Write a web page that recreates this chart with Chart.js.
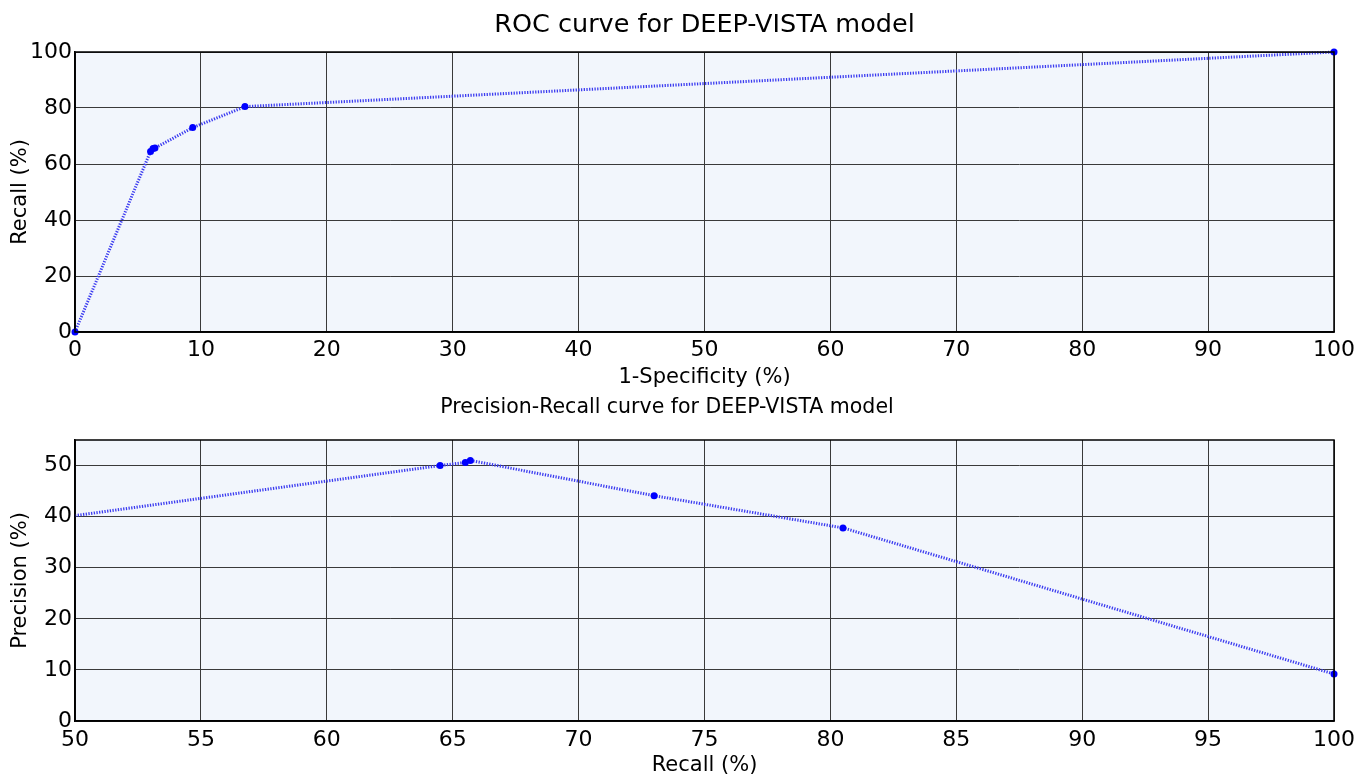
<!DOCTYPE html>
<html>
<head>
<meta charset="utf-8">
<script src="https://cdn.jsdelivr.net/npm/chart.js@4/dist/chart.umd.min.js"></script>
<style>
  html, body { margin: 0; padding: 0; background: #ffffff; }
  #wrap1 { position: absolute; left: 0; top: 0; width: 1364px; height: 390px; }
  #wrap2 { position: absolute; left: 0; top: 390px; width: 1364px; height: 388px; }
</style>
</head>
<body>
<div id="wrap1"><canvas id="roc"></canvas></div>
<div id="wrap2"><canvas id="pr"></canvas></div>
<script>
// ROC data
const rocFpr = [0, 6.0, 6.2, 6.35, 9.35, 13.5, 100];
const rocTpr = [0, 64.5, 65.5, 65.7, 73.0, 80.5, 100];
const rocXTicks = [0, 10, 20, 30, 40, 50, 60, 70, 80, 90, 100];
const rocYTicks = [0, 20, 40, 60, 80, 100];

// Precision-Recall data (first entry is where the curve enters the axes at recall 50)
const prRecall = [50, 64.5, 65.5, 65.7, 73.0, 80.5, 100];
const prPrecision = [40.2, 50.0, 50.6, 51.0, 44.1, 37.8, 9.2];
const prMarker = [0, 1, 1, 1, 1, 1, 1];
const prXTicks = [50, 55, 60, 65, 70, 75, 80, 85, 90, 95, 100];
const prYTicks = [0, 10, 20, 30, 40, 50];

const FONT = '"DejaVu Sans", "Liberation Sans", Arial, sans-serif';

const bgPlugin = {
  id: 'plotBg',
  beforeDraw(chart) {
    const a = chart.chartArea, ctx = chart.ctx;
    ctx.save();
    ctx.fillStyle = '#f2f6fc';
    ctx.fillRect(a.left, a.top, a.right - a.left, a.bottom - a.top);
    ctx.restore();
  }
};

function makeChart(id, xs, ys, markers, o) {
  const pts = xs.map((x, i) => ({x: x, y: ys[i]}));
  return new Chart(document.getElementById(id), {
    type: 'scatter',
    data: {
      datasets: [{
        data: pts,
        showLine: true,
        clip: false,
        borderColor: '#3c3cf0',
        borderWidth: 3,
        borderDash: [1.3, 1.4],
        backgroundColor: '#0000ff',
        pointBackgroundColor: '#0000ff',
        pointBorderColor: '#0000ff',
        pointRadius: markers ? markers.map(m => m ? 3.5 : 0) : 3.5,
        pointBorderWidth: 0,
        tension: 0
      }]
    },
    options: {
      responsive: true,
      maintainAspectRatio: false,
      animation: false,
      layout: { padding: { left: 0, right: 30, top: o.padTop, bottom: 0 } },
      plugins: {
        legend: { display: false },
        tooltip: { enabled: false },
        title: {
          display: true,
          text: o.title,
          color: '#000',
          fullSize: o.titleFull,
          font: { family: FONT, size: o.titleSize, weight: 'normal' },
          padding: { top: 0, bottom: o.titleGap }
        }
      },
      scales: {
        x: {
          type: 'linear',
          min: o.xMin, max: o.xMax,
          afterBuildTicks: s => { s.ticks = o.xTicks.map(v => ({value: v})); },
          afterFit: s => { s.height = o.xAxisH; },
          grid: { color: '#3a3a3a', lineWidth: 1, drawTicks: false },
          border: { color: '#000', width: 1.5 },
          ticks: { color: '#000', font: { family: FONT, size: 22 }, padding: o.xTickPad, maxRotation: 0 },
          title: { display: true, text: o.xTitle, color: '#000', font: { family: FONT, size: 21 }, padding: { top: 0, bottom: 0 } }
        },
        y: {
          type: 'linear',
          min: o.yMin, max: o.yMax,
          afterBuildTicks: s => { s.ticks = o.yTicks.map(v => ({value: v})); },
          afterFit: s => { s.width = 75; },
          grid: { color: '#3a3a3a', lineWidth: 1, drawTicks: false },
          border: { color: '#000', width: 1.5 },
          ticks: { color: '#000', font: { family: FONT, size: 22 }, padding: 3 },
          title: { display: true, text: o.yTitle, color: '#000', font: { family: FONT, size: 21 }, padding: { top: 8, bottom: 0 } }
        }
      }
    },
    plugins: [bgPlugin, {
      id: 'frame',
      afterDraw(chart) {
        const a = chart.chartArea, ctx = chart.ctx;
        ctx.save();
        ctx.strokeStyle = '#000';
        ctx.lineWidth = 1.5;
        ctx.strokeRect(a.left, a.top, a.right - a.left, a.bottom - a.top);
        ctx.restore();
      }
    }]
  });
}

makeChart('roc', rocFpr, rocTpr, null, {
  title: 'ROC curve for DEEP-VISTA model', titleSize: 25.5, titleFull: false, padTop: 9.7, titleGap: 11.7,
  xMin: 0, xMax: 100, yMin: 0, yMax: 100, xTicks: rocXTicks, yTicks: rocYTicks,
  xTitle: '1-Specificity (%)', yTitle: 'Recall (%)', xAxisH: 58, xTickPad: 5
});
makeChart('pr', prRecall, prPrecision, prMarker, {
  title: 'Precision-Recall curve for DEEP-VISTA model', titleSize: 20.5, titleFull: true, padTop: 5.7, titleGap: 19.7,
  xMin: 50, xMax: 100, yMin: 0, yMax: 55, xTicks: prXTicks, yTicks: prYTicks,
  xTitle: 'Recall (%)', yTitle: 'Precision (%)', xAxisH: 57, xTickPad: 6
});
</script>
</body>
</html>
